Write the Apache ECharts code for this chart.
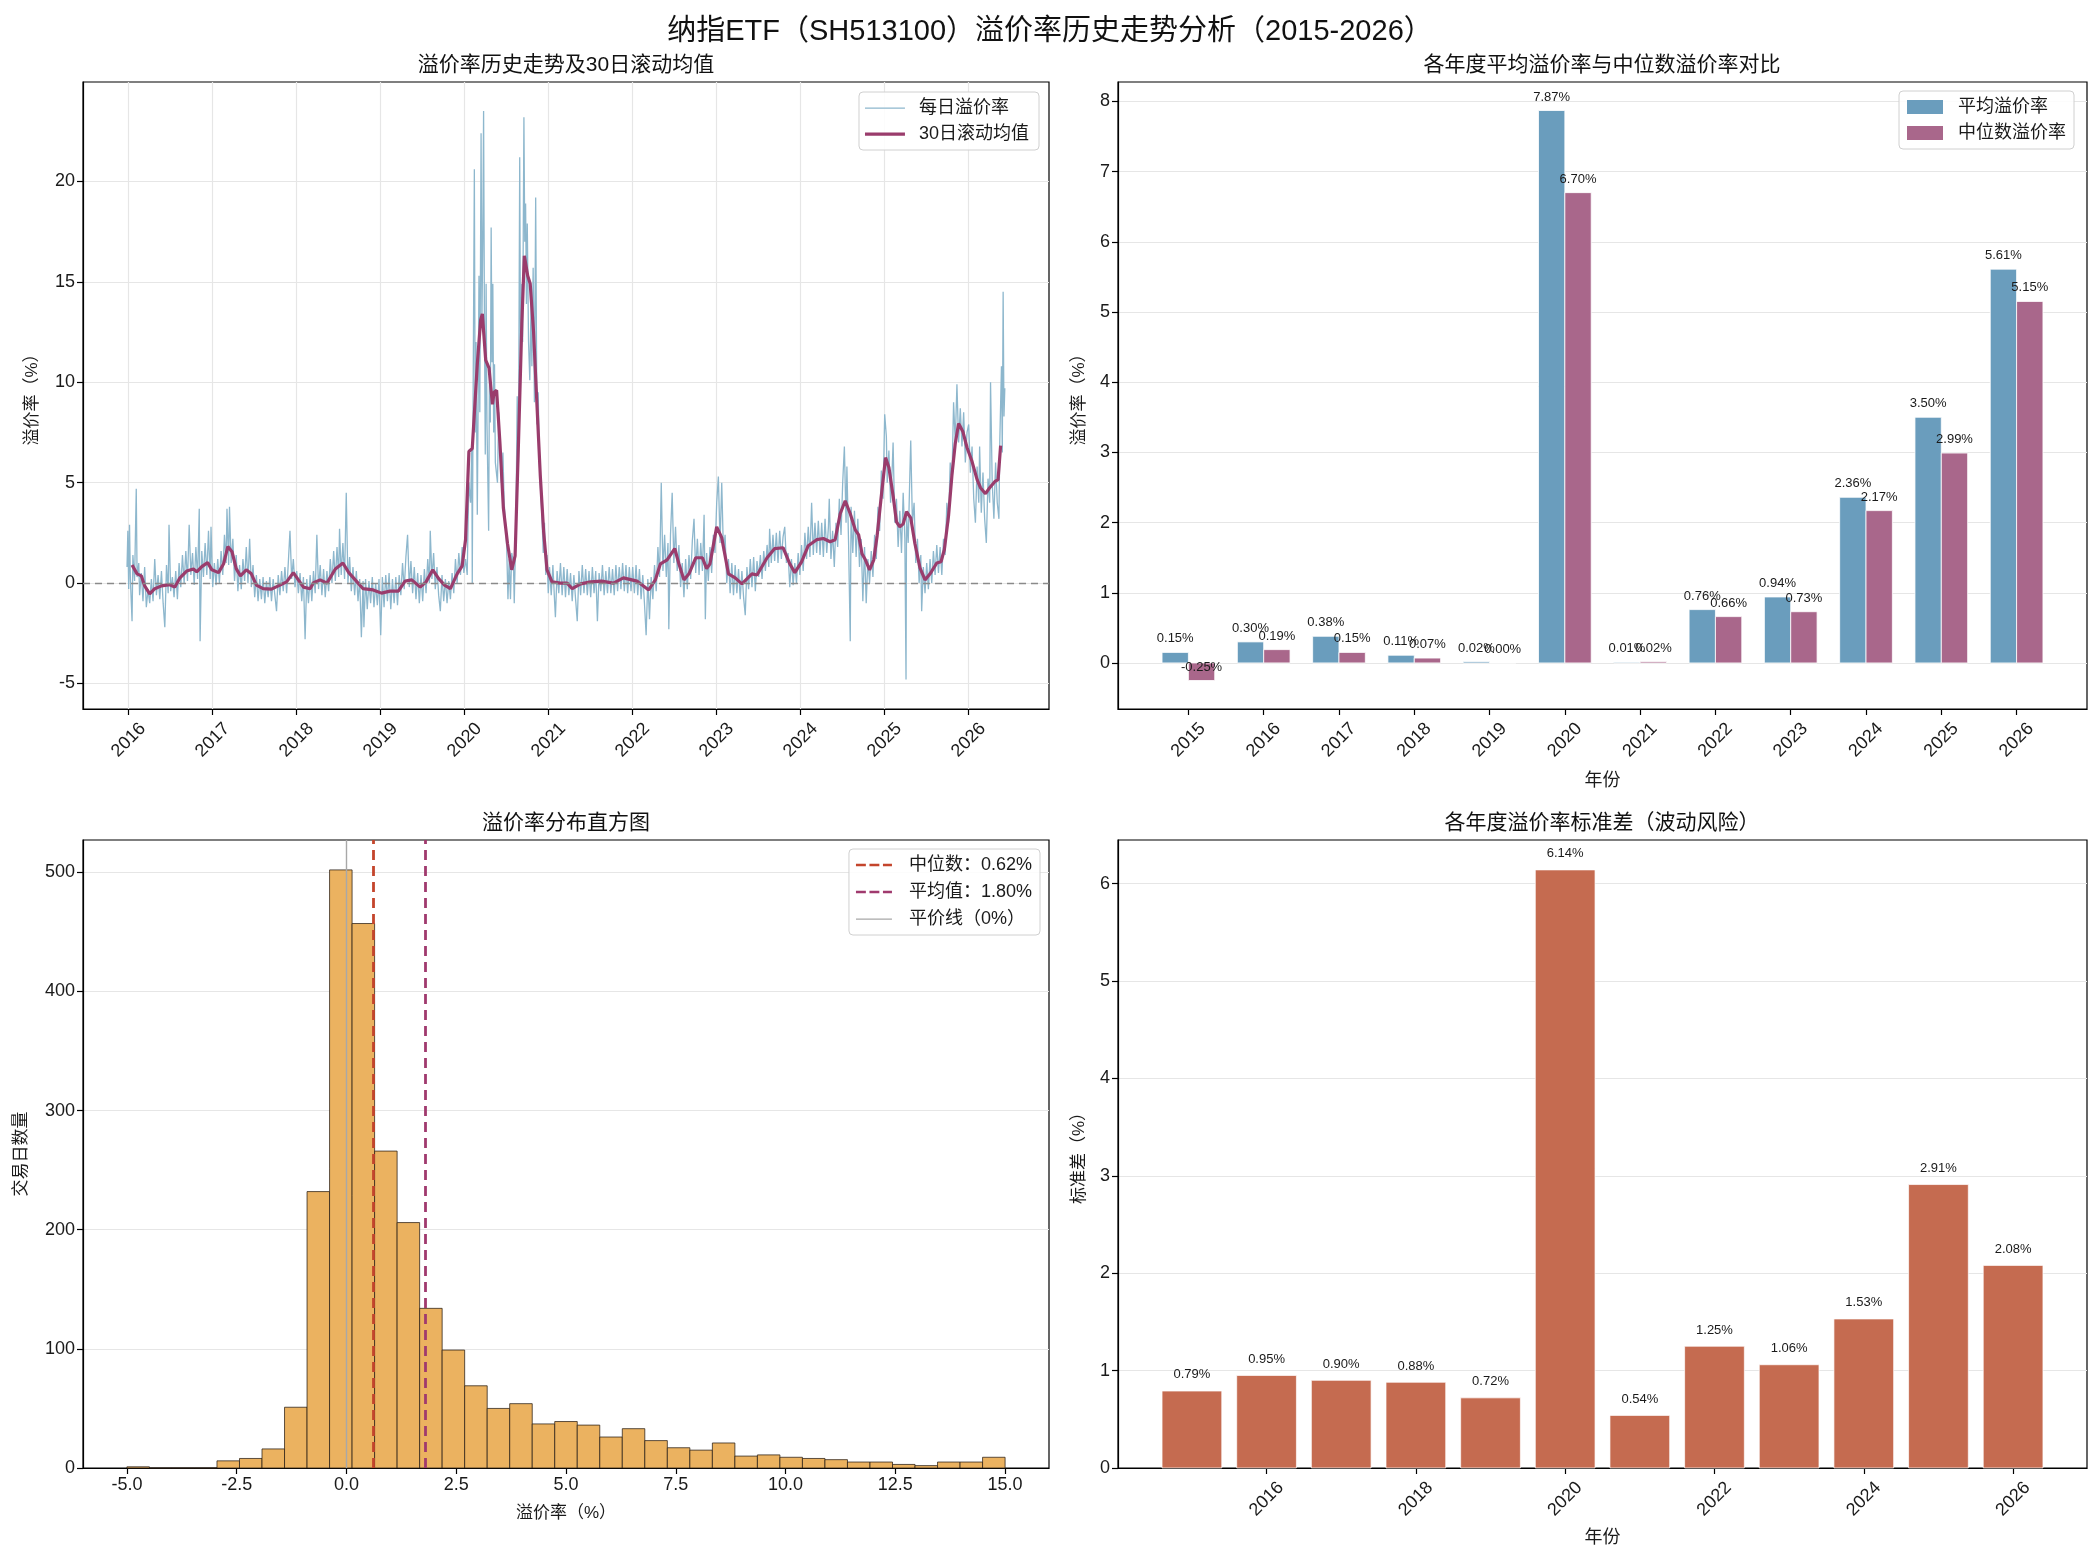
<!DOCTYPE html>
<html>
<head>
<meta charset="utf-8">
<script src="https://cdn.jsdelivr.net/npm/echarts@6.0.0/dist/echarts.min.js"></script>
<style>
  html, body { margin: 0; padding: 0; background: #fff; }
  #chart { width: 2100px; height: 1546px; }
</style>
</head>
<body>
<div id="chart"></div>
<script>
// ---- data ----
const years = [2015, 2016, 2017, 2018, 2019, 2020, 2021, 2022, 2023, 2024, 2025, 2026]
const meanPremium = [0.15, 0.30, 0.38, 0.11, 0.02, 7.87, 0.01, 0.76, 0.94, 2.36, 3.50, 5.61]
const medianPremium = [-0.25, 0.19, 0.15, 0.07, 0.00, 6.70, 0.02, 0.66, 0.73, 2.17, 2.99, 5.15]
const stdPremium = [0.79, 0.95, 0.90, 0.88, 0.72, 6.14, 0.54, 1.25, 1.06, 1.53, 2.91, 2.08]

// histogram: 39 bins between -5 and 15
const histRange = [-5, 15]
const histCounts = [1, 0, 0, 0, 6, 8, 16, 51, 232, 502, 457, 266, 206, 134, 99, 69, 50, 54, 37, 39,
  36, 26, 33, 23, 17, 15, 21, 10, 11, 9, 8, 7, 5, 5, 3, 2, 5, 5, 9]
const medianAll = 0.62
const meanAll = 1.80

// daily premium, [decimal year, %]
const dailyPremium = [
  [2015.98, 0.8], [2015.99, 2.6], [2016.00, -0.3], [2016.01, 2.9], [2016.02, 0.2], [2016.04, -1.9], [2016.05, 1.4], [2016.07, 0.1], [2016.09, 4.7], [2016.10, 0.3],
  [2016.12, 1.0], [2016.13, -0.6], [2016.15, 0.5], [2016.17, -0.9], [2016.19, 0.8], [2016.21, -1.2], [2016.23, -0.3], [2016.25, -1.0], [2016.27, 0.2], [2016.29, -0.9],
  [2016.31, 1.2], [2016.33, -0.6], [2016.35, 0.4], [2016.37, -0.8], [2016.39, 0.6], [2016.41, -1.0], [2016.43, -2.2], [2016.45, 0.9], [2016.47, -0.5], [2016.48, 2.9],
  [2016.50, -0.4], [2016.52, 0.3], [2016.54, -0.7], [2016.56, 0.6], [2016.58, -0.8], [2016.60, 1.0], [2016.62, -0.2], [2016.64, 1.4], [2016.66, 0.0], [2016.68, 1.6],
  [2016.70, 0.1], [2016.72, 2.9], [2016.74, 0.4], [2016.76, 1.5], [2016.78, -0.1], [2016.80, 1.8], [2016.82, 0.2], [2016.84, 3.7], [2016.85, -2.9], [2016.87, 1.6],
  [2016.89, 0.3], [2016.91, 2.0], [2016.93, 0.4], [2016.95, 2.6], [2016.97, 0.2], [2016.98, 2.8], [2017.00, -0.2],
  [2017.02, 1.0], [2017.04, -0.1], [2017.06, 1.2], [2017.08, 0.0], [2017.10, 1.6], [2017.12, 0.4], [2017.14, 2.4], [2017.16, 1.0], [2017.17, 3.7], [2017.19, 0.9],
  [2017.20, 3.8], [2017.22, 1.0], [2017.24, 2.2], [2017.26, 0.1], [2017.28, 1.4], [2017.30, -0.4], [2017.32, 0.9], [2017.34, -0.3], [2017.36, 1.2], [2017.38, 0.1],
  [2017.40, 1.8], [2017.42, 0.0], [2017.44, 2.2], [2017.46, -0.2], [2017.48, 0.9], [2017.50, -0.7], [2017.52, 0.4], [2017.54, -0.9], [2017.56, 0.2], [2017.58, -0.8],
  [2017.60, 0.3], [2017.62, -1.0], [2017.64, 0.1], [2017.66, -0.7], [2017.68, 0.3], [2017.70, -0.9], [2017.72, 0.2], [2017.74, -0.6], [2017.76, -1.4], [2017.78, 0.4],
  [2017.80, -0.6], [2017.82, 0.6], [2017.84, -0.4], [2017.86, 0.8], [2017.88, -0.5], [2017.90, 1.0], [2017.92, 2.6], [2017.94, 0.2], [2017.96, 1.2], [2017.98, -0.2],
  [2018.00, 0.6], [2018.02, -0.5], [2018.04, 0.5], [2018.06, -0.9], [2018.08, 0.3], [2018.10, -2.8], [2018.12, 0.2], [2018.14, -1.0], [2018.16, 0.4], [2018.18, -0.9],
  [2018.20, 0.6], [2018.22, -0.5], [2018.24, 2.4], [2018.26, -0.3], [2018.28, 0.9], [2018.30, -0.6], [2018.32, 0.7], [2018.34, -0.7], [2018.36, 0.6], [2018.38, -0.4],
  [2018.40, 1.2], [2018.42, 0.0], [2018.44, 1.6], [2018.46, 0.1], [2018.48, 1.8], [2018.50, 0.3], [2018.51, 2.7], [2018.53, 0.4], [2018.55, 2.0], [2018.57, 0.2],
  [2018.59, 4.5], [2018.61, 0.0], [2018.63, 1.3], [2018.65, -0.4], [2018.67, 0.8], [2018.69, -0.6], [2018.71, 0.6], [2018.73, -0.9], [2018.75, 0.2], [2018.77, -2.7],
  [2018.79, 0.1], [2018.80, -2.2], [2018.82, 0.2], [2018.84, -1.3], [2018.86, 0.1], [2018.88, -1.0], [2018.90, 0.3], [2018.92, -1.2], [2018.94, 0.0], [2018.96, -1.1],
  [2018.98, 0.2], [2019.00, -2.6], [2019.02, 0.3], [2019.04, -1.2], [2019.06, 0.4], [2019.08, -0.9], [2019.10, 0.5], [2019.12, -1.3], [2019.14, 0.2], [2019.16, -1.0],
  [2019.18, 0.3], [2019.20, -1.1], [2019.22, 0.4], [2019.24, -0.6], [2019.26, 1.0], [2019.28, -0.3], [2019.30, 1.3], [2019.32, 2.4], [2019.34, -0.2], [2019.36, 1.1],
  [2019.38, -0.5], [2019.40, 0.8], [2019.42, -0.8], [2019.44, 0.5], [2019.46, -1.0], [2019.48, 0.4], [2019.50, -0.9], [2019.52, 0.7], [2019.54, -0.5], [2019.56, 1.2],
  [2019.58, 0.0], [2019.59, 2.6], [2019.61, 0.2], [2019.63, 1.5], [2019.65, -0.3], [2019.67, 0.8], [2019.69, -0.6], [2019.71, -1.4], [2019.73, 0.4], [2019.75, -0.9],
  [2019.77, 0.2], [2019.79, -1.0], [2019.81, 0.1], [2019.83, -0.8], [2019.85, 0.5], [2019.87, -0.5], [2019.89, 1.2], [2019.91, 0.0], [2019.93, 1.5], [2019.95, 0.4],
  [2019.97, 1.8], [2019.99, 0.5],
  [2020.01, 1.2], [2020.03, 0.4], [2020.04, 3.0], [2020.05, 5.0], [2020.07, 4.0], [2020.085, 6.8], [2020.09, 0.0], [2020.10, 9.0], [2020.115, 20.6], [2020.125, 7.5],
  [2020.135, 12.0], [2020.15, 3.4], [2020.16, 9.0], [2020.17, 15.3], [2020.18, 8.5], [2020.195, 22.4], [2020.205, 13.0], [2020.215, 17.0], [2020.225, 23.5], [2020.235, 12.9],
  [2020.245, 6.4], [2020.255, 14.9], [2020.265, 8.0], [2020.285, 2.6], [2020.295, 10.5], [2020.305, 8.0], [2020.315, 17.7], [2020.325, 11.0], [2020.335, 14.9], [2020.345, 7.5],
  [2020.355, 10.9], [2020.365, 6.0], [2020.39, 5.0], [2020.405, 8.5], [2020.42, 6.9], [2020.435, 5.0], [2020.455, 6.5], [2020.47, 4.0], [2020.485, 3.0], [2020.50, 1.8],
  [2020.515, -0.8], [2020.53, 1.2], [2020.545, -0.8], [2020.56, 1.5], [2020.58, 1.0], [2020.59, -1.0], [2020.61, 2.9], [2020.625, 9.3], [2020.64, 6.0], [2020.655, 21.2],
  [2020.665, 11.0], [2020.68, 14.9], [2020.69, 12.0], [2020.705, 23.2], [2020.715, 17.0], [2020.725, 18.9], [2020.735, 13.9], [2020.745, 17.9], [2020.76, 12.0], [2020.775, 10.1],
  [2020.79, 14.0], [2020.80, 10.8], [2020.815, 15.7], [2020.83, 9.0], [2020.845, 19.2], [2020.86, 7.9], [2020.875, 9.5], [2020.89, 5.9], [2020.905, 4.5], [2020.92, 3.3],
  [2020.935, 1.5], [2020.95, 3.0], [2020.965, 0.4], [2020.98, 1.4], [2020.995, -0.5],
  [2021.01, 0.8], [2021.03, -0.6], [2021.05, 0.9], [2021.07, -0.9], [2021.08, -1.7], [2021.10, 0.6], [2021.12, -0.5], [2021.14, 1.0], [2021.16, -0.6], [2021.18, 0.8],
  [2021.20, -0.7], [2021.22, 0.7], [2021.24, -0.6], [2021.26, 0.5], [2021.28, -0.9], [2021.30, 0.4], [2021.32, -0.8], [2021.34, -1.9], [2021.36, 0.6], [2021.38, -0.6],
  [2021.40, 0.9], [2021.42, -0.5], [2021.44, 0.7], [2021.46, -0.6], [2021.48, 0.6], [2021.50, -0.7], [2021.52, 0.8], [2021.54, -0.5], [2021.56, 0.6], [2021.58, -1.9],
  [2021.60, 0.5], [2021.62, -0.4], [2021.64, 0.9], [2021.66, -0.6], [2021.68, 0.6], [2021.70, -0.5], [2021.72, 0.8], [2021.74, -0.5], [2021.76, 0.7], [2021.78, -0.6],
  [2021.80, 0.9], [2021.82, -0.4], [2021.84, 0.8], [2021.86, -0.3], [2021.88, 1.0], [2021.90, -0.4], [2021.92, 0.9], [2021.94, -0.5], [2021.96, 0.8], [2021.98, -0.4],
  [2022.00, 0.8], [2022.02, -0.5], [2022.04, 0.9], [2022.06, -0.6], [2022.08, 0.7], [2022.10, -0.8], [2022.12, 0.4], [2022.14, -1.0], [2022.16, -2.6], [2022.18, 0.2],
  [2022.20, -1.8], [2022.22, 0.3], [2022.24, -0.8], [2022.26, 0.9], [2022.28, -0.4], [2022.30, 1.8], [2022.32, 0.3], [2022.34, 5.0], [2022.36, 0.6], [2022.38, 2.4],
  [2022.40, 0.3], [2022.42, 2.0], [2022.43, -2.3], [2022.45, 2.4], [2022.47, 4.5], [2022.49, 1.0], [2022.51, 2.8], [2022.53, 0.6], [2022.55, 1.9], [2022.57, -0.2],
  [2022.59, 1.0], [2022.61, -0.7], [2022.63, 1.2], [2022.65, -0.3], [2022.67, 1.4], [2022.69, 0.2], [2022.71, 2.1], [2022.73, 3.2], [2022.75, 0.5], [2022.77, 2.2],
  [2022.79, 0.4], [2022.81, 2.0], [2022.83, 0.6], [2022.85, 3.4], [2022.865, -1.8], [2022.88, 1.5], [2022.90, 0.1], [2022.92, 1.8], [2022.94, 0.5], [2022.96, 2.4],
  [2022.98, 1.5], [2023.00, 4.0], [2023.02, 5.3], [2023.04, 2.0], [2023.06, 5.0], [2023.08, 1.6], [2023.10, 2.4], [2023.12, 0.0], [2023.14, 1.2], [2023.16, -0.5],
  [2023.18, 1.0], [2023.20, -0.6], [2023.22, 0.9], [2023.24, -0.5], [2023.26, 0.7], [2023.28, -0.8], [2023.30, 0.6], [2023.32, -0.7], [2023.34, -1.6], [2023.36, 0.8],
  [2023.38, -0.3], [2023.40, 1.2], [2023.42, -0.2], [2023.44, 1.3], [2023.46, -0.4], [2023.48, 1.1], [2023.50, 0.3], [2023.52, 1.4], [2023.54, 0.2], [2023.56, 1.6],
  [2023.58, 0.6], [2023.60, 1.9], [2023.62, 0.8], [2023.63, 2.7], [2023.65, 1.0], [2023.67, 2.4], [2023.69, 1.1], [2023.71, 2.5], [2023.73, 1.0], [2023.75, 2.6],
  [2023.77, 1.2], [2023.79, 2.3], [2023.81, 2.8], [2023.83, 1.0], [2023.85, 1.5], [2023.87, -0.2], [2023.89, 1.2], [2023.91, -0.1], [2023.93, 1.0], [2023.95, 0.0],
  [2023.97, 1.5], [2023.99, 0.4], [2024.01, 1.9], [2024.03, 0.6], [2024.05, 2.5], [2024.07, 1.2], [2024.09, 2.8], [2024.11, 1.3], [2024.13, 4.0], [2024.15, 1.4],
  [2024.17, 3.0], [2024.19, 1.5], [2024.21, 3.1], [2024.23, 1.4], [2024.25, 3.0], [2024.27, 1.3], [2024.29, 3.2], [2024.31, 1.5], [2024.33, 2.8], [2024.34, 4.2],
  [2024.36, 1.2], [2024.38, 2.6], [2024.40, 0.8], [2024.42, 3.0], [2024.44, 1.8], [2024.46, 4.2], [2024.48, 2.4], [2024.50, 5.0], [2024.52, 6.8], [2024.54, 3.0],
  [2024.55, 5.8], [2024.57, 2.0], [2024.59, -2.9], [2024.60, 3.8], [2024.62, 1.5], [2024.64, 3.6], [2024.66, 1.3], [2024.68, 3.2], [2024.70, 0.8], [2024.72, 2.2],
  [2024.74, -0.9], [2024.76, 1.8], [2024.78, -1.0], [2024.80, 1.2], [2024.82, 0.0], [2024.84, 1.6], [2024.86, 0.3], [2024.88, 2.4], [2024.90, 1.2], [2024.92, 3.8],
  [2024.94, 2.6], [2024.96, 5.6], [2024.98, 4.2], [2025.00, 8.4], [2025.02, 7.3], [2025.03, 5.0], [2025.05, 6.6], [2025.07, 4.0], [2025.09, 5.8], [2025.10, 7.0],
  [2025.12, 3.0], [2025.14, 4.2], [2025.16, 1.8], [2025.18, 3.6], [2025.20, 1.5], [2025.22, 4.5], [2025.24, 2.2], [2025.254, -4.8], [2025.26, 3.4], [2025.28, 2.0],
  [2025.30, 5.5], [2025.31, 7.1], [2025.33, 3.0], [2025.35, 4.0], [2025.37, 1.0], [2025.39, 2.2], [2025.41, 0.0], [2025.43, 1.4], [2025.44, -1.4], [2025.46, 0.8],
  [2025.48, -0.5], [2025.50, 1.0], [2025.52, -0.3], [2025.54, 1.2], [2025.56, 0.0], [2025.58, 1.6], [2025.60, 0.4], [2025.62, 1.9], [2025.64, 0.5], [2025.66, 1.8],
  [2025.68, 0.4], [2025.70, 2.2], [2025.72, 1.4], [2025.74, 4.0], [2025.76, 3.0], [2025.78, 6.0], [2025.80, 5.0], [2025.82, 9.0], [2025.84, 7.0], [2025.86, 9.9],
  [2025.88, 7.0], [2025.90, 8.7], [2025.92, 6.8], [2025.94, 8.5], [2025.96, 6.0], [2025.98, 7.5], [2026.00, 7.9], [2026.02, 5.5], [2026.04, 6.8], [2026.06, 4.2],
  [2026.08, 3.0], [2026.10, 5.8], [2026.12, 4.0], [2026.13, 6.8], [2026.15, 3.5], [2026.17, 5.5], [2026.19, 3.2], [2026.21, 2.0], [2026.23, 5.2], [2026.25, 4.0],
  [2026.26, 10.0], [2026.28, 5.0], [2026.30, 3.2], [2026.32, 6.0], [2026.34, 4.0], [2026.36, 3.2], [2026.37, 7.0], [2026.39, 10.8], [2026.40, 6.5], [2026.41, 14.5],
  [2026.42, 8.3], [2026.43, 9.7]
]

// 30-day rolling mean, [decimal year, %]
const rolling30 = [
  [2016.04, 0.90], [2016.10, 0.46], [2016.15, 0.36], [2016.19, -0.14], [2016.25, -0.54], [2016.31, -0.28], [2016.39, -0.14], [2016.49, -0.08], [2016.55, -0.20], [2016.61, 0.26],
  [2016.69, 0.60], [2016.77, 0.70], [2016.81, 0.56], [2016.87, 0.82], [2016.94, 1.02], [2016.99, 0.66], [2017.07, 0.52], [2017.13, 0.96], [2017.18, 1.82], [2017.23, 1.56],
  [2017.28, 0.72], [2017.33, 0.36], [2017.40, 0.66], [2017.46, 0.46], [2017.52, -0.10], [2017.60, -0.28], [2017.70, -0.30], [2017.80, -0.10], [2017.88, 0.06], [2017.96, 0.52],
  [2018.02, 0.16], [2018.08, -0.20], [2018.16, -0.28], [2018.20, 0.02], [2018.28, 0.16], [2018.36, 0.00], [2018.46, 0.70], [2018.55, 1.00], [2018.62, 0.52], [2018.71, 0.10],
  [2018.79, -0.28], [2018.91, -0.34], [2019.01, -0.50], [2019.11, -0.40], [2019.21, -0.40], [2019.29, 0.10], [2019.37, 0.16], [2019.47, -0.20], [2019.54, 0.06], [2019.62, 0.66],
  [2019.69, 0.22], [2019.76, -0.10], [2019.83, -0.28], [2019.91, 0.46], [2019.97, 0.86], [2020.01, 2.16], [2020.05, 6.55], [2020.09, 6.70], [2020.15, 10.9], [2020.19, 13.1],
  [2020.21, 13.4], [2020.25, 11.1], [2020.29, 10.7], [2020.33, 8.9], [2020.35, 9.5], [2020.38, 9.6], [2020.42, 6.95], [2020.46, 3.75], [2020.51, 1.96], [2020.56, 0.66],
  [2020.60, 1.36], [2020.64, 6.95], [2020.68, 12.9], [2020.71, 16.3], [2020.75, 15.3], [2020.78, 14.9], [2020.82, 12.5], [2020.86, 8.9], [2020.90, 5.35], [2020.94, 2.55],
  [2020.98, 0.66], [2021.04, 0.06], [2021.14, 0.00], [2021.22, 0.00], [2021.28, -0.28], [2021.38, -0.04], [2021.50, 0.06], [2021.63, 0.10], [2021.77, 0.00], [2021.89, 0.26],
  [2022.05, 0.10], [2022.19, -0.34], [2022.27, 0.16], [2022.33, 0.96], [2022.41, 1.16], [2022.50, 1.72], [2022.55, 0.96], [2022.61, 0.16], [2022.67, 0.46], [2022.75, 1.26],
  [2022.83, 1.26], [2022.88, 0.72], [2022.92, 0.96], [2023.00, 2.80], [2023.06, 2.26], [2023.14, 0.46], [2023.22, 0.26], [2023.30, -0.04], [2023.42, 0.46], [2023.48, 0.40],
  [2023.60, 1.26], [2023.69, 1.72], [2023.79, 1.76], [2023.87, 0.96], [2023.93, 0.52], [2024.01, 1.06], [2024.09, 1.86], [2024.19, 2.16], [2024.27, 2.22], [2024.35, 2.06],
  [2024.41, 2.16], [2024.47, 3.45], [2024.53, 4.10], [2024.59, 3.45], [2024.65, 2.65], [2024.69, 2.40], [2024.73, 1.46], [2024.77, 1.16], [2024.82, 0.66], [2024.87, 1.16],
  [2024.91, 2.36], [2024.96, 4.35], [2025.01, 6.25], [2025.05, 5.75], [2025.10, 4.35], [2025.14, 3.05], [2025.18, 2.80], [2025.22, 2.95], [2025.26, 3.55], [2025.31, 3.25],
  [2025.36, 1.96], [2025.42, 0.76], [2025.48, 0.16], [2025.54, 0.46], [2025.62, 1.00], [2025.67, 1.06], [2025.71, 1.66], [2025.76, 3.35], [2025.80, 5.35], [2025.84, 6.95],
  [2025.88, 7.95], [2025.93, 7.55], [2025.98, 6.75], [2026.04, 6.05], [2026.10, 5.15], [2026.14, 4.75], [2026.20, 4.45], [2026.25, 4.75], [2026.31, 5.05], [2026.35, 5.15],
  [2026.38, 6.85]
]

const yearTicks = [2016, 2017, 2018, 2019, 2020, 2021, 2022, 2023, 2024, 2025, 2026]
const evenYearTicks = [2016, 2018, 2020, 2022, 2024, 2026]
const histTicks = [-5, -2.5, 0, 2.5, 5, 7.5, 10, 12.5, 15]

// ---- styling ----
const FONT = '"Liberation Sans", "Noto Sans CJK SC", sans-serif'
const TXT = '#1a1a1a'
const GRIDLINE = '#e6e6e6'
const C_DAILY = '#8db7cd'
const C_MA = '#9a3c6c'
const C_MEAN = '#6a9dbd'
const C_MEDIAN = '#a9678b'
const C_HIST = '#ebb260'
const C_STD = '#c56b50'

// legend glyphs: invisible corner dots fix the bounding box
const BOX = ' M0,0h0.01v0.01h-0.01z M40,12h0.01v0.01h-0.01z'
const ICON_THIN = 'path://M0,5.4h40v1.4h-40z' + BOX
const ICON_THICK = 'path://M0,4.4h40v3.4h-40z' + BOX
const ICON_DASH = 'path://M0,4.6h11v2.8h-11z M15,4.6h11v2.8h-11z M30,4.6h10v2.8h-10z' + BOX

function valueAxis(gridIndex, min, max, ticks, extra) {
  return Object.assign({
    type: 'value',
    gridIndex: gridIndex,
    min: min,
    max: max,
    axisLine: { show: true, onZero: false, lineStyle: { color: '#000', width: 1.2 } },
    axisTick: { show: true, customValues: ticks, length: 6, lineStyle: { color: '#000', width: 1.2 } },
    axisLabel: { customValues: ticks, fontSize: 18, color: TXT, fontFamily: FONT, margin: 8 },
    splitLine: { show: false }
  }, extra)
}

function yearLabel(v) { return String(Math.round(v)) }

// rotated year labels, centred under the tick like matplotlib
function rotatedYears(ticks) {
  return {
    customValues: ticks, rotate: 45, formatter: yearLabel, align: 'center', verticalAlign: 'middle',
    fontSize: 18, color: TXT, fontFamily: FONT, margin: 31
  }
}

// paired bars for the yearly mean / median chart
const pairWidth = 0.35
function pairBar(offset, color) {
  return function (params, api) {
    const x = api.value(0)
    const v = api.value(1)
    const a = api.coord([x + offset, v])
    const b = api.coord([x + offset + pairWidth, 0])
    const t = api.coord([x + offset + pairWidth / 2, v + 0.1])
    return {
      type: 'group',
      children: [
        { type: 'rect', shape: { x: a[0], y: Math.min(a[1], b[1]), width: b[0] - a[0], height: Math.abs(b[1] - a[1]) },
          style: { fill: color, stroke: 'rgba(255,255,255,0.8)', lineWidth: 1 } },
        { type: 'text', x: t[0], y: t[1],
          style: { text: v.toFixed(2) + '%', fontSize: 13, fill: TXT, align: 'center', verticalAlign: 'bottom', fontFamily: FONT } }
      ]
    }
  }
}

function stdBar(params, api) {
  const x = api.value(0)
  const v = api.value(1)
  const a = api.coord([x - 0.4, v])
  const b = api.coord([x + 0.4, 0])
  const t = api.coord([x, v + 0.1])
  return {
    type: 'group',
    children: [
      { type: 'rect', shape: { x: a[0], y: a[1], width: b[0] - a[0], height: b[1] - a[1] },
        style: { fill: C_STD, stroke: 'rgba(255,255,255,0.7)', lineWidth: 1 } },
      { type: 'text', x: t[0], y: t[1],
        style: { text: v.toFixed(2) + '%', fontSize: 13, fill: TXT, align: 'center', verticalAlign: 'bottom', fontFamily: FONT } }
    ]
  }
}

function histBar(params, api) {
  const a = api.coord([api.value(0), api.value(2)])
  const b = api.coord([api.value(1), 0])
  return {
    type: 'rect',
    shape: { x: a[0], y: a[1], width: b[0] - a[0], height: b[1] - a[1] },
    style: { fill: C_HIST, stroke: 'rgba(40,30,20,0.75)', lineWidth: 1 }
  }
}

const binW = (histRange[1] - histRange[0]) / histCounts.length
const histData = histCounts.map((c, i) => [histRange[0] + i * binW, histRange[0] + (i + 1) * binW, c])

const legendBase = {
  orient: 'vertical',
  borderColor: '#d0d0d0',
  borderWidth: 1,
  borderRadius: 4,
  backgroundColor: 'rgba(255,255,255,0.85)',
  itemStyle: { borderWidth: 0 },
  textStyle: { fontSize: 18, color: TXT, fontFamily: FONT, lineHeight: 20 }
}

const chart = echarts.init(document.getElementById('chart'))

const option = {
  animation: false,
  backgroundColor: '#fff',
  textStyle: { fontFamily: FONT },
  title: [
    { text: '纳指ETF（SH513100）溢价率历史走势分析（2015-2026）', left: 1050, top: 17, textAlign: 'center', padding: 0,
      textStyle: { fontSize: 29, fontWeight: 'normal', color: '#111', fontFamily: FONT } },
    { text: '溢价率历史走势及30日滚动均值', left: 566, top: 55, textAlign: 'center', padding: 0,
      textStyle: { fontSize: 21, fontWeight: 'normal', color: '#111', fontFamily: FONT } },
    { text: '各年度平均溢价率与中位数溢价率对比', left: 1602, top: 55, textAlign: 'center', padding: 0,
      textStyle: { fontSize: 21, fontWeight: 'normal', color: '#111', fontFamily: FONT } },
    { text: '溢价率分布直方图', left: 566, top: 813, textAlign: 'center', padding: 0,
      textStyle: { fontSize: 21, fontWeight: 'normal', color: '#111', fontFamily: FONT } },
    { text: '各年度溢价率标准差（波动风险）', left: 1602, top: 813, textAlign: 'center', padding: 0,
      textStyle: { fontSize: 21, fontWeight: 'normal', color: '#111', fontFamily: FONT } }
  ],
  grid: [
    { left: 83, top: 82, width: 966, height: 627 },
    { left: 1118, top: 82, width: 969, height: 627 },
    { left: 83, top: 840, width: 966, height: 628 },
    { left: 1118, top: 840, width: 969, height: 628 }
  ].map(g => Object.assign(g, { show: true, borderColor: '#000', borderWidth: 1.2, containLabel: false, outerBoundsMode: 'none' })),
  legend: [
    Object.assign({}, legendBase, {
      right: 1061, top: 92, itemWidth: 40, itemHeight: 12, itemGap: 6, padding: [6, 10, 6, 6],
      textStyle: Object.assign({}, legendBase.textStyle, { padding: [0, 0, 0, 9] }),
      data: [{ name: '每日溢价率', icon: ICON_THIN }, { name: '30日滚动均值', icon: ICON_THICK }]
    }),
    Object.assign({}, legendBase, {
      right: 26, top: 91, itemWidth: 36, itemHeight: 14, itemGap: 6, padding: [6, 8, 6, 8],
      textStyle: Object.assign({}, legendBase.textStyle, { padding: [0, 0, 0, 10] }),
      data: [{ name: '平均溢价率', icon: 'rect' }, { name: '中位数溢价率', icon: 'rect' }]
    }),
    Object.assign({}, legendBase, {
      right: 1060, top: 849, itemWidth: 36, itemHeight: 12, itemGap: 7, padding: [6, 8, 6, 7],
      textStyle: Object.assign({}, legendBase.textStyle, { padding: [0, 0, 0, 12] }),
      data: [{ name: '中位数：0.62%', icon: ICON_DASH }, { name: '平均值：1.80%', icon: ICON_DASH }, { name: '平价线（0%）', icon: ICON_THIN }]
    })
  ],
  xAxis: [
    valueAxis(0, 2015.456, 2026.956, yearTicks, {
      axisLabel: rotatedYears(yearTicks),
      splitLine: { show: true, lineStyle: { color: GRIDLINE, width: 1.2 } }
    }),
    valueAxis(1, 2014.065, 2026.935, years, {
      name: '年份', nameLocation: 'middle', nameGap: 63,
      nameTextStyle: { fontSize: 18, color: TXT, fontFamily: FONT },
      axisLabel: rotatedYears(years)
    }),
    valueAxis(2, -6, 16, histTicks, {
      name: '溢价率（%）', nameLocation: 'middle', nameGap: 37,
      nameTextStyle: { fontSize: 17, color: TXT, fontFamily: FONT },
      axisLabel: { customValues: histTicks, formatter: v => v.toFixed(1), fontSize: 18, color: TXT, fontFamily: FONT, margin: 8 }
    }),
    valueAxis(3, 2014.01, 2026.99, evenYearTicks, {
      name: '年份', nameLocation: 'middle', nameGap: 61,
      nameTextStyle: { fontSize: 18, color: TXT, fontFamily: FONT },
      axisLabel: rotatedYears(evenYearTicks)
    })
  ],
  yAxis: [
    valueAxis(0, -6.27, 24.95, [-5, 0, 5, 10, 15, 20], {
      name: '溢价率（%）', nameLocation: 'middle', nameGap: 42, nameRotate: 90,
      nameTextStyle: { fontSize: 17, color: TXT, fontFamily: FONT },
      splitLine: { show: true, lineStyle: { color: GRIDLINE, width: 1.2 } }
    }),
    valueAxis(1, -0.656, 8.276, [0, 1, 2, 3, 4, 5, 6, 7, 8], {
      name: '溢价率（%）', nameLocation: 'middle', nameGap: 30, nameRotate: 90,
      nameTextStyle: { fontSize: 17, color: TXT, fontFamily: FONT },
      splitLine: { show: true, lineStyle: { color: GRIDLINE, width: 1.2 } }
    }),
    valueAxis(2, 0, 527.1, [0, 100, 200, 300, 400, 500], {
      name: '交易日数量', nameLocation: 'middle', nameGap: 53, nameRotate: 90,
      nameTextStyle: { fontSize: 17, color: TXT, fontFamily: FONT },
      splitLine: { show: true, lineStyle: { color: GRIDLINE, width: 1.2 } }
    }),
    valueAxis(3, 0, 6.447, [0, 1, 2, 3, 4, 5, 6], {
      name: '标准差（%）', nameLocation: 'middle', nameGap: 30, nameRotate: 90,
      nameTextStyle: { fontSize: 17, color: TXT, fontFamily: FONT },
      splitLine: { show: true, lineStyle: { color: GRIDLINE, width: 1.2 } }
    })
  ],
  series: [
    {
      name: '每日溢价率', type: 'line', xAxisIndex: 0, yAxisIndex: 0,
      data: dailyPremium, showSymbol: false, symbol: 'none', silent: true,
      itemStyle: { color: C_DAILY }, lineStyle: { color: C_DAILY, width: 1.3 },
      markLine: {
        silent: true, symbol: 'none', label: { show: false },
        lineStyle: { color: '#8a8a8a', type: [7, 5], width: 1.4 },
        data: [{ yAxis: 0 }]
      }
    },
    {
      name: '30日滚动均值', type: 'line', xAxisIndex: 0, yAxisIndex: 0,
      data: rolling30, showSymbol: false, symbol: 'none', silent: true,
      itemStyle: { color: C_MA }, lineStyle: { color: C_MA, width: 3.2 }
    },
    {
      name: '平均溢价率', type: 'custom', xAxisIndex: 1, yAxisIndex: 1,
      data: years.map((y, i) => [y, meanPremium[i]]), encode: { x: 0, y: 1 },
      itemStyle: { color: C_MEAN }, renderItem: pairBar(-pairWidth, C_MEAN)
    },
    {
      name: '中位数溢价率', type: 'custom', xAxisIndex: 1, yAxisIndex: 1,
      data: years.map((y, i) => [y, medianPremium[i]]), encode: { x: 0, y: 1 },
      itemStyle: { color: C_MEDIAN }, renderItem: pairBar(0, C_MEDIAN)
    },
    {
      name: 'hist', type: 'custom', xAxisIndex: 2, yAxisIndex: 2,
      data: histData, encode: { x: [0, 1], y: 2 }, renderItem: histBar
    },
    {
      name: '中位数：0.62%', type: 'line', xAxisIndex: 2, yAxisIndex: 2, data: [],
      itemStyle: { color: '#c4452c' },
      markLine: { silent: true, symbol: 'none', label: { show: false },
        lineStyle: { color: '#c4452c', type: [10, 6], width: 2.8 }, data: [{ xAxis: medianAll }] }
    },
    {
      name: '平均值：1.80%', type: 'line', xAxisIndex: 2, yAxisIndex: 2, data: [],
      itemStyle: { color: '#a03a6e' },
      markLine: { silent: true, symbol: 'none', label: { show: false },
        lineStyle: { color: '#a03a6e', type: [10, 6], width: 2.8 }, data: [{ xAxis: meanAll }] }
    },
    {
      name: '平价线（0%）', type: 'line', xAxisIndex: 2, yAxisIndex: 2, data: [],
      itemStyle: { color: '#a8a8a8' },
      markLine: { silent: true, symbol: 'none', label: { show: false },
        lineStyle: { color: '#a8a8a8', type: 'solid', width: 1.4 }, data: [{ xAxis: 0 }] }
    },
    {
      name: 'std', type: 'custom', xAxisIndex: 3, yAxisIndex: 3,
      data: years.map((y, i) => [y, stdPremium[i]]), encode: { x: 0, y: 1 },
      renderItem: stdBar
    }
  ]
}

chart.setOption(option)
</script>
</body>
</html>
